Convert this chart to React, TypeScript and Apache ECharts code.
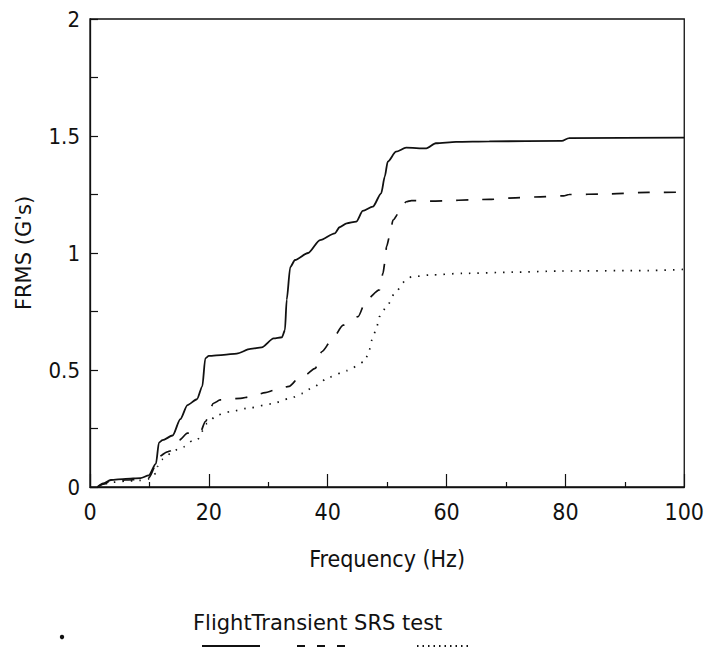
import React, { useEffect, useRef } from "react";
import * as echarts from "echarts";

// [frequency Hz, FRMS G's]
const solidPts: [number, number][] = [
  [1.3, 0], [2.2, 0.015], [3.5, 0.03], [6, 0.035], [8.5, 0.038], [9.9, 0.05], [11.1, 0.1], [11.6, 0.19],
  [12.2, 0.2], [13.9, 0.22], [15.2, 0.29], [16.4, 0.35], [18.0, 0.375], [18.9, 0.43], [19.4, 0.55],
  [20.0, 0.56], [22.5, 0.565], [24.7, 0.57], [27.0, 0.59], [28.9, 0.597], [30.9, 0.635], [32.3, 0.64],
  [32.8, 0.67], [33.1, 0.8], [33.7, 0.94], [34.5, 0.97], [36.7, 1.0], [38.7, 1.055], [41.2, 1.084],
  [42.0, 1.11], [43.2, 1.127], [44.8, 1.134], [45.9, 1.18], [47.6, 1.198], [49.0, 1.255], [49.6, 1.326],
  [50.1, 1.39], [51.5, 1.433], [53.2, 1.45], [56.6, 1.447], [58.2, 1.469], [61.6, 1.475], [67.2, 1.477],
  [79.4, 1.479], [80.6, 1.491], [100, 1.493],
];

const dashedPts: [number, number][] = [
  [1.3, 0], [2.2, 0.012], [3.5, 0.025], [6, 0.03], [8.5, 0.032], [9.9, 0.04], [11.1, 0.094], [11.6, 0.13],
  [13.0, 0.15], [13.6, 0.155], [15.0, 0.2], [16.4, 0.23], [18.3, 0.232], [18.6, 0.236], [19.4, 0.28],
  [20.8, 0.358], [21.9, 0.372], [25.3, 0.379], [27.0, 0.386], [29.5, 0.403], [31.2, 0.415], [33.5, 0.43],
  [35.3, 0.471], [36.2, 0.479], [37.9, 0.507], [39.0, 0.578], [40.7, 0.628], [42.6, 0.692], [45.1, 0.728],
  [46.5, 0.8], [48.7, 0.842], [49.3, 0.913], [49.6, 0.956], [49.9, 1.027], [50.4, 1.07], [51.0, 1.141],
  [52.1, 1.176], [53.2, 1.219], [54.1, 1.224], [56.8, 1.222], [67.2, 1.229], [71.6, 1.236], [75.8, 1.24],
  [79.7, 1.244], [80.6, 1.25], [87, 1.252], [94, 1.259], [100, 1.26],
];

const dottedPts: [number, number][] = [
  [1.3, 0], [2.2, 0.01], [3.5, 0.02], [6, 0.025], [8.5, 0.028], [10, 0.035], [11.1, 0.058], [11.3, 0.087],
  [12.2, 0.118], [13.6, 0.144], [15.0, 0.165], [15.8, 0.172], [17.2, 0.197], [18.0, 0.2], [19.1, 0.244],
  [19.7, 0.272], [21.4, 0.308], [23.6, 0.322], [27.0, 0.339], [30.5, 0.355], [33.7, 0.379], [35.8, 0.4],
  [37.5, 0.427], [40.4, 0.471], [43.2, 0.497], [46.2, 0.535], [46.8, 0.568], [47.6, 0.64], [48.2, 0.678],
  [48.7, 0.728], [49.9, 0.77], [51.3, 0.828], [52.9, 0.877], [54.1, 0.898], [57.1, 0.906], [62.7, 0.913],
  [71.1, 0.918], [78.9, 0.923], [94, 0.925], [100, 0.93],
];

const titleText = "FlightTransient SRS test";
const xName = "Frequency (Hz)";
const yName = "FRMS (G's)";

const FONT = "'DejaVu Sans Condensed', 'Liberation Sans Narrow', sans-serif";
const WIDE = "'DejaVu Sans', sans-serif";
const INK = "#111";

export default function App() {
  const ref = useRef<HTMLDivElement>(null);
  useEffect(() => {
    if (!ref.current) return;
    const chart = echarts.init(ref.current, null, { renderer: "svg" });
    const lineBase = { type: "line", showSymbol: false, symbol: "none", smooth: 0.25, smoothMonotone: "x" };
    chart.setOption({
      animation: false,
      backgroundColor: "#fff",
      grid: { left: 90, top: 19, width: 596, height: 468, show: true, borderColor: INK, borderWidth: 1.3, backgroundColor: "transparent" },
      xAxis: {
        type: "value", min: 0, max: 100, interval: 20,
        name: xName, nameLocation: "middle", nameGap: 60,
        nameTextStyle: { fontFamily: FONT, fontSize: 23, color: INK },
        axisLine: { show: true, lineStyle: { color: INK, width: 1.3 } },
        axisTick: { show: true, inside: true, length: 13, lineStyle: { color: INK, width: 1.2 } },
        minorTick: { show: true, splitNumber: 2, length: 5, lineStyle: { color: INK, width: 1.2 } },
        axisLabel: { fontFamily: FONT, fontSize: 23, color: INK, margin: 13 },
        splitLine: { show: false },
      },
      yAxis: {
        type: "value", min: 0, max: 2, interval: 0.5,
        name: yName, nameLocation: "middle", nameGap: 56,
        nameTextStyle: { fontFamily: WIDE, fontSize: 21, color: INK },
        axisLine: { show: true, lineStyle: { color: INK, width: 1.3 } },
        axisTick: { show: true, inside: true, length: 8, lineStyle: { color: INK, width: 1.2 } },
        minorTick: { show: true, splitNumber: 2, length: 8, lineStyle: { color: INK, width: 1.2 } },
        axisLabel: { fontFamily: FONT, fontSize: 22, color: INK, margin: 10 },
        splitLine: { show: false },
      },
      series: [
        { ...lineBase, name: "solid", data: solidPts, lineStyle: { color: INK, width: 1.8, type: "solid" } },
        { ...lineBase, name: "dashed", data: dashedPts, lineStyle: { color: INK, width: 1.7, type: [12, 14] } },
        { ...lineBase, name: "dotted", data: dottedPts, lineStyle: { color: INK, width: 1.7, type: [1.5, 7] } },
      ],
      graphic: [
        { type: "text", left: 193, top: 612, style: { text: titleText, fontFamily: WIDE, fontSize: 21, fill: INK } },
        { type: "circle", shape: { cx: 62, cy: 637, r: 2.2 }, style: { fill: INK } },
        { type: "line", shape: { x1: 202, y1: 646, x2: 260, y2: 646 }, style: { stroke: INK, lineWidth: 2 } },
        { type: "line", shape: { x1: 297, y1: 646, x2: 357, y2: 646 }, style: { stroke: INK, lineWidth: 2, lineDash: [8, 12] } },
        { type: "line", shape: { x1: 417, y1: 646, x2: 470, y2: 646 }, style: { stroke: INK, lineWidth: 2, lineDash: [1.5, 4] } },
      ],
    });
    return () => chart.dispose();
  }, []);
  return <div ref={ref} style={{ position: "fixed", left: 0, top: 0, width: 707, height: 648 }} />;
}
